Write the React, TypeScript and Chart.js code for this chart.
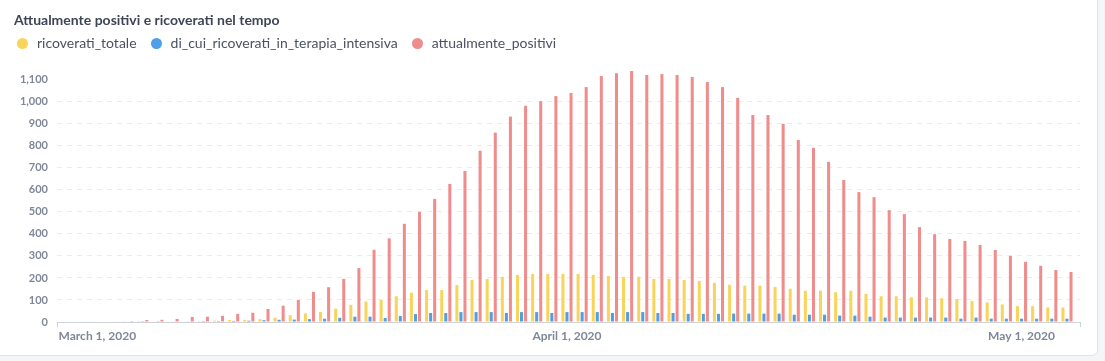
import React, { useEffect, useRef } from "react";
import { Chart, registerables } from "chart.js";

Chart.register(...registerables);

// ---- data -----------------------------------------------------------------
const dates = [
  "2020-03-02", "2020-03-03", "2020-03-04", "2020-03-05", "2020-03-06", "2020-03-07", "2020-03-08",
  "2020-03-09", "2020-03-10", "2020-03-11", "2020-03-12", "2020-03-13", "2020-03-14", "2020-03-15",
  "2020-03-16", "2020-03-17", "2020-03-18", "2020-03-19", "2020-03-20", "2020-03-21", "2020-03-22",
  "2020-03-23", "2020-03-24", "2020-03-25", "2020-03-26", "2020-03-27", "2020-03-28", "2020-03-29",
  "2020-03-30", "2020-03-31", "2020-04-01", "2020-04-02", "2020-04-03", "2020-04-04", "2020-04-05",
  "2020-04-06", "2020-04-07", "2020-04-08", "2020-04-09", "2020-04-10", "2020-04-11", "2020-04-12",
  "2020-04-13", "2020-04-14", "2020-04-15", "2020-04-16", "2020-04-17", "2020-04-18", "2020-04-19",
  "2020-04-20", "2020-04-21", "2020-04-22", "2020-04-23", "2020-04-24", "2020-04-25", "2020-04-26",
  "2020-04-27", "2020-04-28", "2020-04-29", "2020-04-30", "2020-05-01", "2020-05-02", "2020-05-03",
  "2020-05-04",
];

const ricoveratiTotale = [
  0, 1, 1, 2, 2, 3, 4, 6, 9, 10, 13, 19, 31, 39, 46, 61, 78, 93, 100, 117, 133, 145, 145, 168,
  191, 195, 205, 214, 218, 218, 218, 218, 214, 209, 205, 205, 195, 195, 191, 186, 178, 169, 165,
  165, 159, 151, 142, 142, 135, 142, 128, 117, 117, 112, 112, 108, 104, 95, 89, 80, 72, 72, 66, 66,
];

const terapiaIntensiva = [
  0, 0, 1, 1, 2, 3, 4, 4, 5, 6, 8, 10, 11, 13, 15, 19, 24, 24, 18, 27, 36, 41, 41, 45, 45, 45, 41,
  45, 45, 41, 45, 45, 45, 41, 45, 45, 41, 41, 37, 37, 37, 38, 38, 38, 38, 33, 33, 33, 29, 29, 24,
  20, 20, 20, 20, 20, 15, 20, 15, 15, 15, 15, 15, 15,
];

const attualmentePositivi = [
  2, 4, 9, 10, 14, 23, 24, 28, 37, 42, 59, 74, 100, 137, 158, 196, 245, 328, 380, 446, 500, 559,
  627, 686, 778, 860, 933, 982, 1003, 1026, 1040, 1067, 1117, 1130, 1140, 1122, 1126, 1122, 1113,
  1090, 1067, 1018, 940, 940, 900, 827, 791, 727, 645, 590, 567, 508, 490, 431, 399, 377, 368, 350,
  327, 300, 273, 255, 236, 227,
];

const seriesLabels = ["ricoverati_totale", "di_cui_ricoverati_in_terapia_intensiva", "attualmente_positivi"];
const seriesColors = ["#F9D45C", "#509EE3", "#EF8C8C"];

const xTickDates = ["2020-03-01", "2020-04-01", "2020-05-01"];
const xTickLabels = ["March 1, 2020", "April 1, 2020", "May 1, 2020"];
const yTickStep = 100;

const title = "Attualmente positivi e ricoverati nel tempo";

// ---- helpers ----------------------------------------------------------------
const ORIGIN = Date.UTC(2020, 2, 1);
const dayNum = (s: string) => (Date.parse(s + "T00:00:00Z") - ORIGIN) / 86400000;

const FONT = "Lato, 'Noto Sans', sans-serif";
const AXIS_COLOR = "#7f8798";

const endTicks = {
  id: "endTicks",
  afterDraw(chart: any) {
    const { ctx, chartArea } = chart;
    ctx.save();
    ctx.strokeStyle = "#cfd3d9";
    ctx.lineWidth = 1;
    [chartArea.left, chartArea.right].forEach((x: number) => {
      const px = Math.round(x) + 0.5;
      ctx.beginPath();
      ctx.moveTo(px, chartArea.bottom);
      ctx.lineTo(px, chartArea.bottom + 5);
      ctx.stroke();
    });
    ctx.restore();
  },
};

function BarChart() {
  const ref = useRef<HTMLCanvasElement | null>(null);

  useEffect(() => {
    if (!ref.current) return;
    const values = [ricoveratiTotale, terapiaIntensiva, attualmentePositivi];
    const first = dayNum(dates[0]);
    const last = dayNum(dates[dates.length - 1]);
    const yMax = Math.max(...attualmentePositivi);
    const chart = new Chart(ref.current, {
      type: "bar",
      data: {
        datasets: values.map((vals, k) => ({
          label: seriesLabels[k],
          data: dates.map((d, i) => ({ x: dayNum(d), y: vals[i] })),
          backgroundColor: seriesColors[k],
          borderWidth: 0,
          categoryPercentage: 0.8,
          barPercentage: 0.75,
        })),
      },
      options: {
        animation: false,
        responsive: false,
        maintainAspectRatio: false,
        layout: { padding: { top: 71, right: 25, bottom: 0, left: 0 } },
        plugins: {
          legend: { display: false },
          tooltip: { enabled: false },
          title: { display: false },
        },
        scales: {
          x: {
            type: "linear",
            min: first - 3.66,
            max: last + 0.86,
            offset: false,
            grid: { display: false, drawTicks: false },
            border: { display: true, color: "#cfd3d9", width: 1 },
            afterBuildTicks: (scale: any) => {
              scale.ticks = xTickDates.map((d) => ({ value: dayNum(d) }));
            },
            afterFit: (scale: any) => {
              scale.height = 39;
            },
            ticks: {
              autoSkip: false,
              maxRotation: 0,
              minRotation: 0,
              padding: 7,
              color: AXIS_COLOR,
              font: { family: FONT, size: 12, weight: "bold" },
              callback: (v: any) => {
                const idx = xTickDates.findIndex((d) => dayNum(d) === v);
                return idx >= 0 ? xTickLabels[idx] : "";
              },
            },
          },
          y: {
            min: 0,
            max: yMax,
            afterBuildTicks: (scale: any) => {
              const ticks: any[] = [];
              for (let v = 0; v <= yMax; v += yTickStep) ticks.push({ value: v });
              scale.ticks = ticks;
            },
            afterFit: (scale: any) => {
              scale.width = 57;
            },
            grid: {
              drawTicks: false,
              color: (ctx: any) =>
                ctx.tick && (ctx.tick.value === 0 || ctx.tick.value >= 1100) ? "rgba(0,0,0,0)" : "#e9ebee",
              lineWidth: 1,
            },
            border: { display: false, dash: [5, 5] },
            ticks: {
              stepSize: yTickStep,
              padding: 9,
              color: AXIS_COLOR,
              font: { family: FONT, size: 11, weight: "bold" },
              callback: (v: any) => Number(v).toLocaleString("en-US"),
            },
          },
        },
      },
      plugins: [endTicks],
    } as any);
    return () => chart.destroy();
  }, []);

  return (
    <canvas
      ref={ref}
      width={1105}
      height={361}
      style={{ position: "absolute", left: 0, top: 0, width: 1105, height: 361 }}
    />
  );
}

export default function App() {
  return (
    <div
      style={{
        position: "fixed",
        left: 0,
        top: 0,
        width: 1105,
        height: 361,
        background: "#f4f5f7",
        overflow: "hidden",
        fontFamily: FONT,
      }}
    >
      <div
        style={{
          position: "absolute",
          left: -10,
          top: -10,
          width: 1108,
          height: 366,
          boxSizing: "border-box",
          background: "#ffffff",
          border: "1px solid #e1e4e8",
          borderRadius: 6,
        }}
      />
      <BarChart />
      <div
        style={{
          position: "absolute",
          left: 14,
          top: 13,
          fontSize: 14,
          lineHeight: "14px",
          fontWeight: 700,
          color: "#3e4556",
          whiteSpace: "nowrap",
        }}
      >
        {title}
      </div>
      <div
        style={{
          position: "absolute",
          left: 17,
          top: 35,
          height: 16,
          display: "flex",
          alignItems: "center",
          whiteSpace: "nowrap",
        }}
      >
        {seriesLabels.map((label, k) => (
          <div key={label} style={{ display: "flex", alignItems: "center", marginRight: 14 }}>
            <span
              style={{
                display: "inline-block",
                width: 11,
                height: 11,
                borderRadius: "50%",
                background: seriesColors[k],
                marginRight: 9,
              }}
            />
            <span style={{ fontSize: 14, lineHeight: "16px", color: "#4a5262" }}>{label}</span>
          </div>
        ))}
      </div>
    </div>
  );
}
